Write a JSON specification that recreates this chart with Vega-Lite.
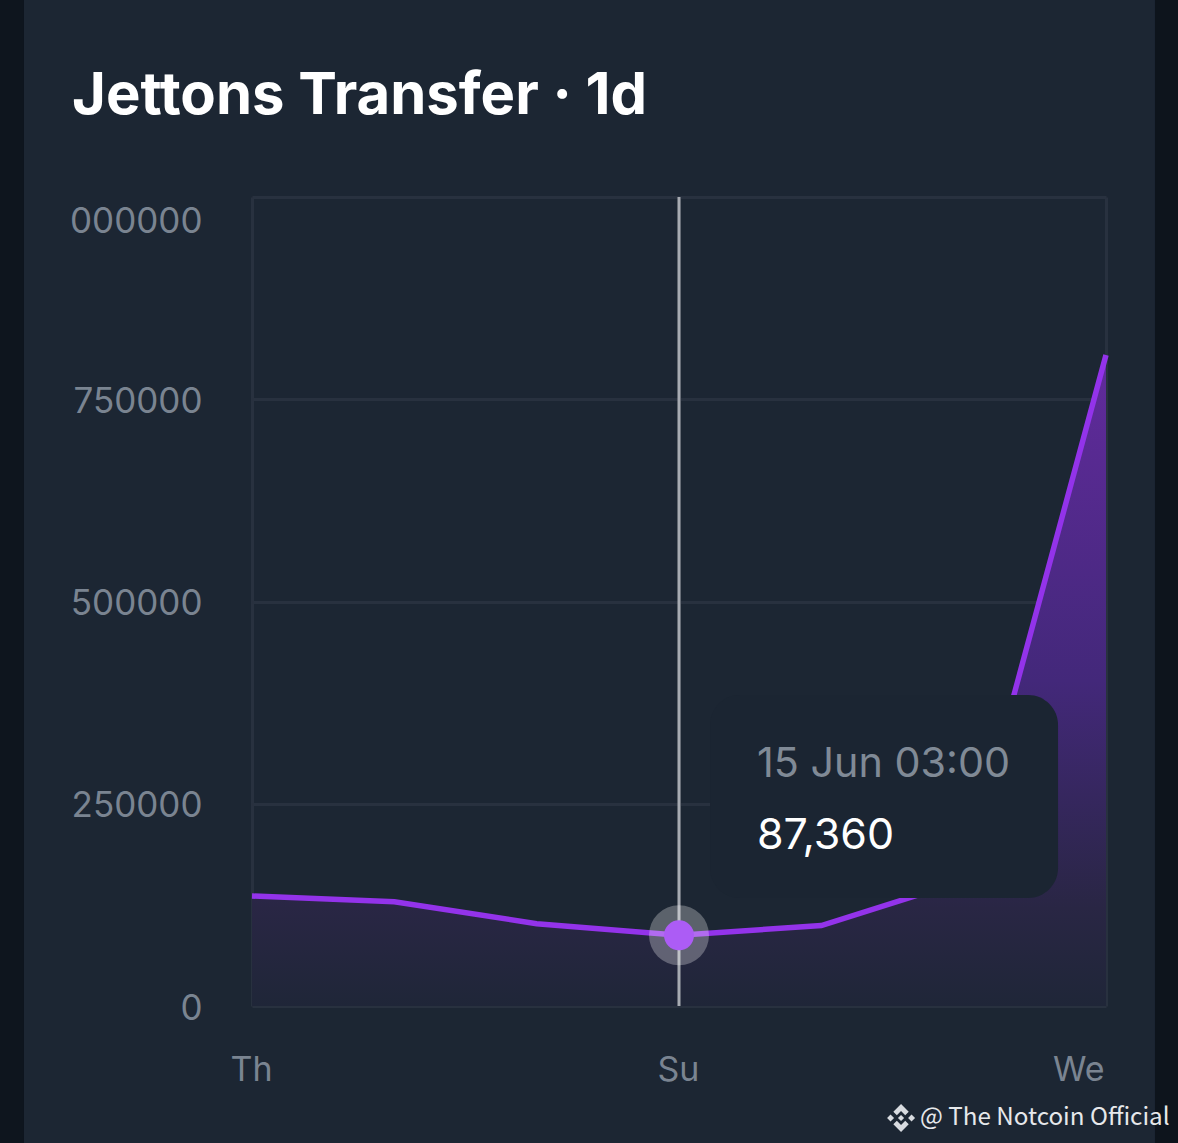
{
  "$schema": "https://vega.github.io/schema/vega-lite/v6.json",
  "description": "Jettons Transfer 1d",
  "width": 854,
  "height": 809,
  "autosize": "none",
  "padding": {"left": 252, "top": 197, "right": 72, "bottom": 137},
  "background": "#1c2633",
  "title": {
    "text": "Jettons Transfer · 1d",
    "anchor": "start",
    "frame": "group",
    "dx": -180,
    "offset": -177,
    "baseline": "alphabetic",
    "font": "Inter",
    "fontSize": 58,
    "fontWeight": 700,
    "color": "#ffffff"
  },
  "config": {"view": {"stroke": null}, "font": "Inter"},
  "resolve": {"scale": {"color": "independent"}},
  "datasets": {
    "series": [
      {"day": 12, "transfers": 136000},
      {"day": 13, "transfers": 128800},
      {"day": 14, "transfers": 101800},
      {"day": 15, "transfers": 87360},
      {"day": 16, "transfers": 99500},
      {"day": 17, "transfers": 155000},
      {"day": 18, "transfers": 804700}
    ],
    "selected": [{"day": 15, "transfers": 87360, "top": 1000000, "bottom": 0}],
    "edges": [
      {"x0": 10.2, "x1": 10.398, "y0": -175000, "y1": 1250000, "side": "left"},
      {"x0": 18.344, "x1": 18.53, "y0": -175000, "y1": 1250000, "side": "right"}
    ],
    "box": [{"x0": 15.218, "x1": 17.663, "y0": 133500, "y1": 384400}],
    "boxText": [
      {"day": 15.548, "transfers": 297900, "label": "15 Jun 03:00", "kind": "date"},
      {"day": 15.548, "transfers": 210100, "label": "87,360", "kind": "value"}
    ],
    "credit": [{"day": 16.693, "transfers": -138400, "label": "@ The Notcoin Official", "logoDay": 16.56}]
  },
  "layer": [
    {
      "data": {"name": "edges"},
      "mark": {"type": "rect", "clip": false},
      "encoding": {
        "x": {
          "field": "x0",
          "type": "quantitative",
          "scale": {"domain": [12, 18], "nice": false, "zero": false},
          "title": null,
          "axis": {
            "values": [12, 15, 18],
            "labelExpr": "datum.value == 12 ? 'Th' : datum.value == 15 ? 'Su' : 'We'",
            "labelAlign": {"expr": "datum.value == 18 ? 'right' : 'center'"},
            "labelOffset": {"expr": "datum.value == 18 ? -2 : -1"},
            "labelFont": "Inter",
            "labelFontSize": 34,
            "labelColor": "#7a8491",
            "labelPadding": 47,
            "labelBound": false,
            "labelFlush": false,
            "ticks": false,
            "domain": false,
            "grid": true,
            "gridColor": "#28313f",
            "gridWidth": 3
          }
        },
        "x2": {"field": "x1"},
        "y": {
          "field": "y0",
          "type": "quantitative",
          "scale": {"domain": [0, 1000000], "nice": false},
          "title": null,
          "axis": {
            "values": [0, 250000, 500000, 750000, 1000000],
            "labelExpr": "datum.value == 1000000 ? '000000' : datum.value + ''",
            "labelOffset": {"expr": "datum.value == 1000000 ? 24 : 2"},
            "labelFont": "Inter",
            "labelFontSize": 35,
            "labelColor": "#7a8491",
            "labelPadding": 50,
            "labelBound": false,
            "ticks": false,
            "domain": false,
            "grid": true,
            "gridColor": "#28313f",
            "gridWidth": 3
          }
        },
        "y2": {"field": "y1"},
        "color": {
          "field": "side",
          "type": "nominal",
          "scale": {"domain": ["left", "right"], "range": ["#0e151e", "#0d141c"]},
          "legend": null
        }
      }
    },
    {
      "data": {"name": "series"},
      "mark": {
        "type": "area",
        "color": {
          "gradient": "linear",
          "x1": 1, "y1": 0, "x2": 1, "y2": 1,
          "stops": [
            {"offset": 0, "color": "#612b9c"},
            {"offset": 0.5, "color": "#43287a"},
            {"offset": 0.85, "color": "#292644"},
            {"offset": 1, "color": "#1f2638"}
          ]
        }
      },
      "encoding": {
        "x": {"field": "day", "type": "quantitative"},
        "y": {"field": "transfers", "type": "quantitative"}
      }
    },
    {
      "data": {"name": "series"},
      "mark": {"type": "line", "color": "#9333ea", "strokeWidth": 5.5, "strokeJoin": "miter"},
      "encoding": {
        "x": {"field": "day", "type": "quantitative"},
        "y": {"field": "transfers", "type": "quantitative"}
      }
    },
    {
      "data": {"name": "selected"},
      "mark": {"type": "rule", "color": "#a7abb2", "strokeWidth": 3},
      "encoding": {
        "x": {"field": "day", "type": "quantitative"},
        "y": {"field": "top", "type": "quantitative"},
        "y2": {"field": "bottom"}
      }
    },
    {
      "data": {"name": "selected"},
      "mark": {"type": "point", "filled": true, "shape": "circle", "size": 3600, "color": "#ffffff", "opacity": 0.28},
      "encoding": {
        "x": {"field": "day", "type": "quantitative"},
        "y": {"field": "transfers", "type": "quantitative"}
      }
    },
    {
      "data": {"name": "selected"},
      "mark": {"type": "point", "filled": true, "shape": "circle", "size": 900, "color": "#ac5cf5", "opacity": 1},
      "encoding": {
        "x": {"field": "day", "type": "quantitative"},
        "y": {"field": "transfers", "type": "quantitative"}
      }
    },
    {
      "data": {"name": "box"},
      "mark": {"type": "rect", "color": "#1b2532", "cornerRadius": 30},
      "encoding": {
        "x": {"field": "x0", "type": "quantitative"},
        "x2": {"field": "x1"},
        "y": {"field": "y0", "type": "quantitative"},
        "y2": {"field": "y1"}
      }
    },
    {
      "data": {"name": "boxText"},
      "mark": {"type": "text", "align": "left", "baseline": "middle", "font": "Inter"},
      "encoding": {
        "x": {"field": "day", "type": "quantitative"},
        "y": {"field": "transfers", "type": "quantitative"},
        "text": {"field": "label"},
        "size": {
          "field": "kind",
          "type": "ordinal",
          "scale": {"domain": ["date", "value"], "range": [41.3, 43]},
          "legend": null
        },
        "color": {
          "field": "kind",
          "type": "nominal",
          "scale": {"domain": ["date", "value"], "range": ["#808a96", "#ffffff"]},
          "legend": null
        }
      }
    },
    {
      "data": {"name": "credit"},
      "mark": {
        "type": "point",
        "filled": true,
        "size": 784,
        "opacity": 1,
        "color": "#d8dbe0",
        "shape": "M0,-1L0.55,-0.45L0.3,-0.2L0,-0.5L-0.3,-0.2L-0.55,-0.45ZM0,1L0.55,0.45L0.3,0.2L0,0.5L-0.3,0.2L-0.55,0.45ZM-1,0L-0.75,-0.25L-0.5,0L-0.75,0.25ZM1,0L0.75,-0.25L0.5,0L0.75,0.25ZM0,-0.22L0.22,0L0,0.22L-0.22,0Z"
      },
      "encoding": {
        "x": {"field": "logoDay", "type": "quantitative"},
        "y": {"field": "transfers", "type": "quantitative"}
      }
    },
    {
      "data": {"name": "credit"},
      "mark": {"type": "text", "align": "left", "baseline": "middle", "font": "Noto Sans CJK SC", "fontSize": 24.2, "color": "#e6e8eb"},
      "encoding": {
        "x": {"field": "day", "type": "quantitative"},
        "y": {"field": "transfers", "type": "quantitative"},
        "text": {"field": "label"}
      }
    }
  ]
}
